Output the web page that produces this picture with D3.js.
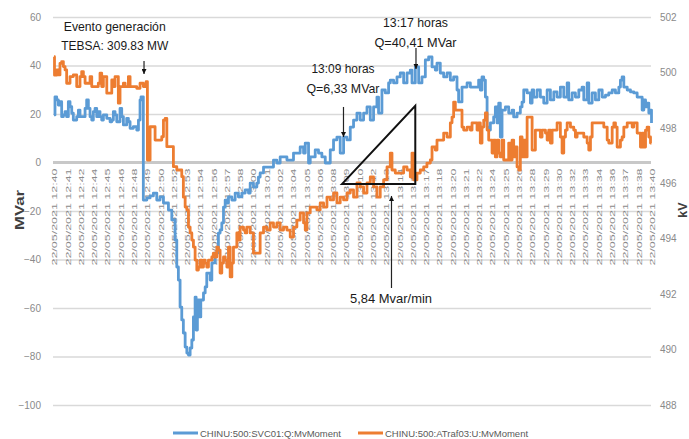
<!DOCTYPE html>
<html>
<head>
<meta charset="utf-8">
<script src="https://cdn.jsdelivr.net/npm/d3@7/dist/d3.min.js"></script>
<style>
body { margin: 0; background: #fff; }
svg { display: block; font-family: "Liberation Sans", Arial, sans-serif; }
</style>
</head>
<body>
<script>
// minutes after 12:40 , value
var svcQ = [[0,19.6],[0.1,27.1],[0.27,25.8],[0.43,23.7],[0.6,25.1],[0.77,18.9],[0.94,19.6],[1.11,21],[1.27,18.9],[1.44,25.1],[1.61,23],[1.78,20.3],[1.94,17.5],[2.28,18.9],[2.45,21.6],[2.61,18.9],[3.12,22.3],[3.28,25.8],[3.45,22.3],[3.62,18.9],[3.79,17.5],[3.95,21],[4.12,22.3],[4.29,18.9],[4.45,21],[4.62,18.9],[4.79,17.5],[4.96,19.6],[5.3,18.2],[5.63,16.8],[5.8,17.5],[5.96,21],[6.13,19.6],[6.3,16.8],[6.63,22.3],[6.8,18.9],[6.97,15.5],[7.3,18.2],[7.47,16.8],[7.64,14.1],[7.97,14.8],[8.31,13.4],[8.48,17.5],[8.64,25.8],[8.74,27.1],[8.97,-15.5],[9.32,-14.6],[9.65,-13.8],[9.98,-12.6],[10.32,-15.5],[10.65,-14.2],[10.99,-16.7],[11.49,-19.6],[11.83,-23.7],[12.16,-32],[12.33,-43.1],[12.49,-48.5],[12.66,-59.6],[12.83,-64.9],[12.99,-70.3],[13.17,-76.1],[13.34,-78.6],[13.5,-79.4],[13.67,-76.5],[13.84,-73.2],[14,-63.7],[14.17,-55.5],[14.27,-69.1],[14.4,-56.7],[14.6,-63.7],[14.74,-56.7],[15.01,-53.8],[15.18,-51.3],[15.34,-45.6],[15.68,-48.5],[15.85,-41.4],[16.18,-37.3],[16.51,-29.1],[16.68,-27.8],[16.85,-24.9],[17.02,-18.4],[17.19,-15.5],[17.36,-16.7],[17.52,-14.2],[17.86,-15.5],[18.19,-12.6],[18.52,-14.2],[18.86,-12.6],[19.2,-11.3],[19.53,-12.6],[19.7,-8.5],[20.03,-10.1],[20.37,-8.5],[20.53,-6],[20.7,-4.3],[21.04,-1.9],[21.37,-1.9],[22.04,1],[22.38,-0.2],[22.71,2.3],[23.39,1],[24.05,3.9],[24.39,3.9],[24.72,6.4],[25.06,3.9],[25.23,8],[25.56,-0.2],[25.73,2.3],[26.23,5.2],[26.56,3.9],[26.9,2.3],[27.24,-0.2],[27.74,5.2],[28.07,9.3],[28.41,10.5],[28.74,3.9],[29.08,10.5],[29.42,9.3],[29.75,14.6],[30.08,17.5],[30.42,20.4],[30.75,17.5],[31.09,20.4],[31.43,22.9],[31.76,17.5],[32.09,22.9],[32.43,27],[32.59,20.4],[32.93,29.9],[33.27,28.7],[33.6,32.8],[33.77,34],[34.1,32.8],[34.44,35.3],[34.77,36.9],[35.11,32.8],[35.45,36.9],[35.78,38.1],[35.95,32.8],[36.28,39.4],[36.62,32.8],[36.95,35.3],[37.29,42.3],[37.62,43.5],[37.96,39.4],[38.29,38.1],[38.46,41],[38.79,36.9],[39.13,35.3],[39.47,36.9],[39.8,34],[40.13,35.3],[40.47,29.9],[40.63,25],[40.97,31.1],[41.48,32.8],[41.81,31.1],[42.48,31.1],[42.64,34],[42.81,29.9],[42.98,35.3],[43.15,34],[43.32,27],[43.49,14.6],[43.65,13.4],[43.82,16.3],[44.15,18.8],[44.32,22.9],[44.49,16.3],[44.66,24.5],[44.82,10.5],[44.99,21.6],[45.33,22.9],[45.66,20.4],[46,21.6],[46.16,18.8],[46.5,20.4],[46.83,22.9],[47,24.9],[47.17,29.9],[47.51,28.7],[47.84,24.5],[48.01,29.9],[48.17,27],[48.51,29.9],[48.84,27],[49.18,24.5],[49.52,29.9],[49.85,25.8],[50.19,29.1],[50.52,27],[50.85,31.1],[51.19,27],[51.53,32.8],[51.69,25.8],[52.03,28.7],[52.36,27],[52.7,29.9],[53.03,31.1],[53.2,25.8],[53.54,32.8],[53.7,24.5],[54.04,28.7],[54.37,25.8],[54.71,29.9],[55.05,27],[55.38,27.8],[55.71,28.7],[56.05,29.9],[56.38,28.7],[56.72,31.1],[56.88,34],[57.05,35.3],[57.22,31.1],[57.56,29.9],[57.89,29.1],[58.22,28.7],[58.56,27],[58.89,27],[59.06,21.6],[59.23,25.8],[59.4,22.9],[59.56,24.5],[59.73,20.4],[59.9,21.6],[60,16.3]];

var trafU = [[0,500.57],[0.05,499.9],[0.27,500.09],[0.43,499.91],[0.6,500.33],[0.77,500.39],[0.94,500.21],[1.11,500.09],[1.27,499.61],[1.61,499.85],[1.94,499.91],[2.28,499.49],[2.61,499.85],[2.78,500.03],[2.95,499.85],[3.12,499.61],[3.62,499.85],[3.79,499.49],[4.45,499.61],[4.62,499.97],[4.79,499.49],[4.96,499.85],[5.3,499.25],[5.8,499.73],[5.96,499.49],[6.13,499.85],[6.46,498.89],[6.63,499.49],[6.97,499.61],[7.14,499.49],[7.47,499.85],[7.64,499.49],[8.31,499.43],[8.64,499.61],[8.97,499.49],[9.25,499.67],[9.38,496.84],[9.65,498.04],[10.15,497.56],[10.82,497.68],[10.99,498.28],[11.16,498.34],[11.33,497.32],[11.99,496.6],[12.33,496.48],[12.83,496.24],[12.99,495.5],[13.17,495.14],[13.34,495.04],[13.5,494.42],[13.67,494.21],[13.84,493.95],[14,493.7],[14.17,493.23],[14.34,492.87],[14.5,492.98],[14.67,493.23],[14.84,492.98],[15.01,493.23],[15.18,493.12],[15.34,492.98],[15.51,493.23],[15.85,493.34],[16.01,493.48],[16.18,493.34],[16.35,493.7],[16.51,493.59],[16.68,492.76],[16.85,493.12],[17.02,493.34],[17.19,493.23],[17.36,492.98],[17.52,493.7],[17.69,492.62],[17.86,493.12],[18.02,493.7],[18.36,494.21],[18.52,493.95],[18.69,494.42],[19.03,494.31],[19.2,494.21],[19.36,494.42],[19.7,494.21],[20.03,493.48],[20.7,494.21],[21.04,494.42],[21.37,494.31],[21.71,494.57],[22.04,494.42],[22.38,494.57],[22.71,494.31],[23.05,494.42],[23.39,494.31],[23.72,494.06],[24.05,494.42],[24.39,494.67],[24.72,494.93],[25.06,494.57],[25.23,494.31],[25.4,494.93],[25.73,495.14],[26.4,495.04],[26.73,495.29],[27.07,495.14],[27.41,495.5],[27.74,495.4],[28.07,495.65],[28.41,495.29],[28.74,495.5],[29.08,495.4],[29.42,495.65],[29.75,495.76],[30.08,495.5],[30.42,496.01],[30.75,495.87],[31.09,495.65],[31.43,496.01],[31.76,496.23],[32.09,495.87],[32.43,495.5],[32.76,495.87],[33.1,496.12],[33.44,496.59],[33.77,497.09],[33.94,496.48],[34.27,496.37],[35.11,496.59],[35.45,496.48],[35.78,496.23],[35.95,497.09],[36.11,496.12],[36.45,496.37],[36.78,496.48],[37.12,496.59],[37.45,496.73],[37.79,496.84],[37.96,497.31],[38.29,497.2],[38.46,497.56],[39.13,497.81],[39.47,497.67],[39.8,498.18],[39.97,498.39],[40.13,498.93],[40.3,498.64],[40.97,498.03],[41.14,497.92],[41.48,498.03],[41.81,497.92],[41.98,498.18],[42.48,497.92],[42.64,498.18],[42.81,497.45],[42.98,498.03],[43.15,498.28],[43.32,498.54],[43.49,497.92],[43.65,497.56],[43.99,497.09],[44.15,497.56],[44.32,496.95],[44.49,497.56],[44.66,497.09],[44.82,496.95],[44.99,497.56],[45.16,496.84],[45.66,497.45],[45.83,496.84],[46,497.56],[46.16,496.95],[46.33,497.31],[46.5,496.59],[46.67,496.48],[46.83,497.67],[47,496.95],[47.17,497.56],[47.34,496.95],[47.51,498.39],[48.01,497.2],[48.34,497.92],[48.84,497.67],[49.01,497.92],[49.35,497.81],[49.52,497.56],[49.68,497.92],[49.85,497.45],[50.02,497.92],[50.52,498.18],[50.85,497.67],[51.02,497.09],[51.19,497.67],[51.36,497.92],[51.53,498.18],[51.86,498.03],[52.19,497.92],[52.36,497.67],[52.53,497.81],[53.2,497.67],[53.54,497.45],[53.7,497.2],[53.87,497.67],[54.04,498.18],[55.21,498.03],[55.55,497.56],[55.71,497.45],[56.05,498.03],[56.22,498.18],[56.38,498.03],[56.55,497.31],[56.88,497.56],[57.05,497.67],[57.22,498.03],[57.56,498.18],[58.06,498.03],[58.22,498.18],[58.56,497.81],[58.89,497.31],[59.06,497.81],[59.23,497.31],[59.4,497.92],[59.56,498.03],[59.73,497.67],[59.9,497.45],[60,497.45]];

var xTimes = ["12:40","12:41","12:42","12:44","12:45","12:46","12:48","12:49","12:50","12:52","12:53","12:54","12:56","12:57","12:58",
  "13:00","13:01","13:02","13:04","13:05","13:06","13:08","13:09","13:10","13:12","13:13","13:14","13:16","13:17","13:18",
  "13:20","13:21","13:22","13:24","13:25","13:26","13:28","13:29","13:30","13:32","13:33","13:34","13:36","13:37","13:38","13:40"];
var xDate = "22/05/2021";
var leftTicks = [60, 40, 20, 0, -20, -40, -60, -80, -100];
var rightTicks = [502, 500, 498, 496, 494, 492, 490, 488];
var seriesNames = ["CHINU:500:SVC01:Q:MvMoment", "CHINU:500:ATraf03:U:MvMoment"];
var colors = ["#5b9bd5", "#ed7d31"];

var width = 689, height = 439;

var x = d3.scaleLinear().domain([0, 60]).range([54, 651.5]);
var xCat = d3.scalePoint().domain(xTimes).range([54, 651.5]);
var yL = d3.scaleLinear().domain([-100, 60]).range([405, 17]);
var yR = d3.scaleLinear().domain([488, 502]).range([405, 17]);

var svg = d3.select('body').append('svg')
  .attr('width', width)
  .attr('height', height);

svg.append('rect').attr('width', width).attr('height', height).attr('fill', '#fff');

svg.append('defs').append('marker')
    .attr('id', 'arr')
    .attr('viewBox', '0 0 10 10')
    .attr('refX', 10).attr('refY', 5)
    .attr('markerWidth', 5).attr('markerHeight', 5)
    .attr('markerUnits', 'userSpaceOnUse')
    .attr('orient', 'auto')
  .append('path')
    .attr('d', 'M0,0 L10,5 L0,10 z')
    .attr('fill', '#111');

// gridlines + left labels
svg.append('g')
    .attr('transform', 'translate(53,0)')
    .call(d3.axisLeft(yL).tickValues(leftTicks).tickSize(-598).tickPadding(12))
    .call(function(g) { g.select('.domain').remove(); })
    .call(function(g) {
      g.selectAll('line').attr('stroke', '#d9d9d9').attr('stroke-width', 1.5);
      g.selectAll('text').attr('fill', '#8a8a8a').attr('font-size', 10)
        .attr('font-family', '"Liberation Sans", Arial, sans-serif');
    });

// right labels
svg.append('g')
    .attr('transform', 'translate(651,0)')
    .call(d3.axisRight(yR).tickValues(rightTicks).tickSize(0).tickPadding(9))
    .call(function(g) { g.select('.domain').remove(); })
    .call(function(g) {
      g.selectAll('text').attr('fill', '#8a8a8a').attr('font-size', 10)
        .attr('font-family', '"Liberation Sans", Arial, sans-serif');
    });

// zero line (category axis)
svg.append('line')
  .attr('x1', 53).attr('x2', 651)
  .attr('y1', yL(0)).attr('y2', yL(0))
  .attr('stroke', '#c8c8c8').attr('stroke-width', 3);

// x labels
svg.append('g')
    .attr('transform', 'translate(0,' + yL(0) + ')')
    .call(d3.axisBottom(xCat).tickSize(0).tickFormat(function(d) { return xDate + ' ' + d; }))
    .call(function(g) { g.select('.domain').remove(); })
    .call(function(g) {
      g.selectAll('text')
        .attr('transform', 'rotate(-90)')
        .attr('x', -6).attr('y', 0).attr('dy', '0.35em')
        .attr('text-anchor', 'end')
        .attr('font-size', 8)
        .attr('fill', '#8a8a8a')
        .attr('font-family', '"Liberation Sans", Arial, sans-serif')
        .attr('textLength', 97)
        .attr('lengthAdjust', 'spacingAndGlyphs');
    });

var lineL = d3.line()
  .x(function(d) { return x(d[0]) })
  .y(function(d) { return yL(d[1]) })
  .curve(d3.curveStepAfter);

var lineR = d3.line()
  .x(function(d) { return x(d[0]) })
  .y(function(d) { return yR(d[1]) })
  .curve(d3.curveStepAfter);

svg.append('path')
  .datum(svcQ)
  .attr('d', lineL)
  .attr('fill', 'none')
  .attr('stroke', colors[0])
  .attr('stroke-width', 2.8)
  .attr('stroke-linejoin', 'round');

svg.append('path')
  .datum(trafU)
  .attr('d', lineR)
  .attr('fill', 'none')
  .attr('stroke', colors[1])
  .attr('stroke-width', 2.8)
  .attr('stroke-linejoin', 'round');

// axis titles
svg.append('text')
  .attr('transform', 'translate(24,210) rotate(-90)')
  .attr('text-anchor', 'middle')
  .attr('font-size', 13.5).attr('font-weight', 'bold').attr('fill', '#404040')
  .attr('textLength', 40).attr('lengthAdjust', 'spacingAndGlyphs')
  .text('MVar');

svg.append('text')
  .attr('transform', 'translate(687,210) rotate(-90)')
  .attr('text-anchor', 'middle')
  .attr('font-size', 12.5).attr('font-weight', 'bold').attr('fill', '#404040')
  .text('kV');

// annotations (minutes, MVar)
var notes = [
  { t: 6.1, lines: [["Evento generación", 54.35, 102], ["TEBSA: 309.83 MW", 46.4, 107]] },
  { t: 36.3, lines: [["13:17 horas", 55.75, 65], ["Q=40,41 MVar", 47.75, 82]] },
  { t: 29.02, lines: [["13:09 horas", 36.8, 63], ["Q=6,33 MVar", 28.5, 73]] },
  { t: 33.84, lines: [["5,84 Mvar/min", -57.9, 82]] }
];
var arrows = [
  { t: 9.04, from: 41.9, to: 36.5 },
  { t: 36.35, from: 47.2, to: 38.6 },
  { t: 29.07, from: 22.9, to: 10.5 },
  { t: 33.89, from: -51.75, to: -13.8 }
];
var slope = { t0: 28.91, t1: 36.28, v0: -8.9, v1: 23.4 };

notes.forEach(function(n) {
  n.lines.forEach(function(l) {
    svg.append('text')
      .attr('x', x(n.t)).attr('y', yL(l[1]))
      .attr('text-anchor', 'middle')
      .attr('font-size', 13.5).attr('fill', '#1a1a1a')
      .attr('textLength', l[2]).attr('lengthAdjust', 'spacingAndGlyphs')
      .text(l[0]);
  });
});

arrows.forEach(function(a) {
  svg.append('line')
    .attr('x1', x(a.t)).attr('x2', x(a.t))
    .attr('y1', yL(a.from)).attr('y2', yL(a.to))
    .attr('stroke', '#222').attr('stroke-width', 1.2)
    .attr('marker-end', 'url(#arr)');
});

svg.append('path')
  .attr('d', 'M' + x(slope.t0) + ',' + yL(slope.v0) +
             'L' + x(slope.t1) + ',' + yL(slope.v1) +
             'L' + x(slope.t1) + ',' + yL(slope.v0) + 'Z')
  .attr('fill', 'none').attr('stroke', '#111').attr('stroke-width', 2);

// legend
var legendX = [173, 358];
seriesNames.forEach(function(name, i) {
  var lg = svg.append('g').attr('transform', 'translate(' + legendX[i] + ',433)');
  lg.append('line').attr('x1', 0).attr('x2', 25).attr('y1', 0).attr('y2', 0)
    .attr('stroke', colors[i]).attr('stroke-width', 3);
  lg.append('text').attr('x', 27).attr('y', 4)
    .attr('font-size', 9.5).attr('fill', '#595959')
    .text(name);
});
</script>
</body>
</html>
